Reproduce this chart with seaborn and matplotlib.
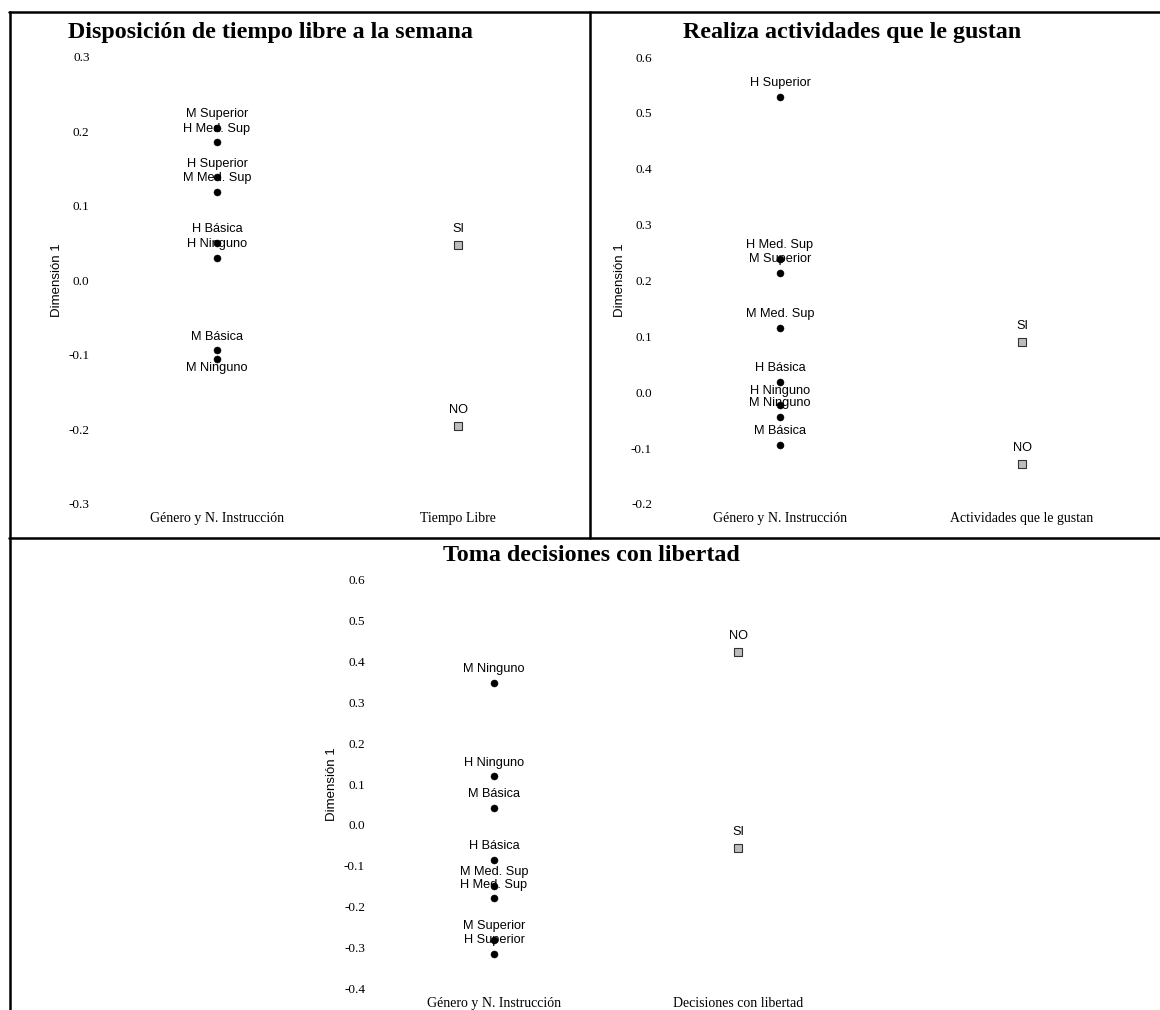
import matplotlib
matplotlib.use("Agg")
import matplotlib.pyplot as plt
import pandas as pd
import seaborn as sns
from matplotlib.lines import Line2D

# ---- Disposición de tiempo libre a la semana ----
tiempo_grupos = ["M Superior", "H Med. Sup", "H Superior", "M Med. Sup",
                 "H Básica", "H Ninguno", "M Básica", "M Ninguno"]
tiempo_grupos_dim1 = [0.204, 0.185, 0.138, 0.119, 0.050, 0.030, -0.094, -0.106]
tiempo_respuestas = ["SI", "NO"]
tiempo_respuestas_dim1 = [0.048, -0.195]
tiempo_ejes = ["Género y N. Instrucción", "Tiempo Libre"]
tiempo_ticks = [-0.3, -0.2, -0.1, 0.0, 0.1, 0.2, 0.3]

# ---- Realiza actividades que le gustan ----
activ_grupos = ["H Superior", "H Med. Sup", "M Superior", "M Med. Sup",
                "H Básica", "H Ninguno", "M Ninguno", "M Básica"]
activ_grupos_dim1 = [0.529, 0.239, 0.214, 0.115, 0.019, -0.023, -0.044, -0.095]
activ_respuestas = ["SI", "NO"]
activ_respuestas_dim1 = [0.090, -0.128]
activ_ejes = ["Género y N. Instrucción", "Actividades que le gustan"]
activ_ticks = [-0.2, -0.1, 0.0, 0.1, 0.2, 0.3, 0.4, 0.5, 0.6]

# ---- Toma decisiones con libertad ----
decis_grupos = ["M Ninguno", "H Ninguno", "M Básica", "H Básica",
                "M Med. Sup", "H Med. Sup", "M Superior", "H Superior"]
decis_grupos_dim1 = [0.348, 0.119, 0.042, -0.085, -0.149, -0.180, -0.281, -0.316]
decis_respuestas = ["NO", "SI"]
decis_respuestas_dim1 = [0.423, -0.057]
decis_ejes = ["Género y N. Instrucción", "Decisiones con libertad"]
decis_ticks = [-0.4, -0.3, -0.2, -0.1, 0.0, 0.1, 0.2, 0.3, 0.4, 0.5, 0.6]

sns.set_theme(style="white")
plt.rcParams["axes.unicode_minus"] = False
plt.rcParams["font.family"] = ["Liberation Sans", "DejaVu Sans"]
for key in ("text.color", "axes.labelcolor", "xtick.color", "ytick.color",
            "xtick.labelcolor", "ytick.labelcolor"):
    plt.rcParams[key] = "black"
SERIF = ["Liberation Serif", "DejaVu Serif"]

W, H = 1160, 1010
fig = plt.figure(figsize=(W / 100, H / 100), dpi=100)


def rect(x0, x1, ytop, ybot):
    return [x0 / W, 1 - ybot / H, (x1 - x0) / W, (ybot - ytop) / H]


def panel(box, title, title_x, grupos, g_vals, resp, r_vals, ejes, ticks,
          below=()):
    ax = fig.add_axes(box)
    df_g = pd.DataFrame({"col": [0] * len(grupos), "dim1": g_vals, "lab": grupos})
    df_r = pd.DataFrame({"col": [1] * len(resp), "dim1": r_vals, "lab": resp})
    sns.scatterplot(data=df_g, x="col", y="dim1", ax=ax, color="black",
                    marker="o", s=26, edgecolor="black", linewidth=0.3,
                    zorder=3, legend=False)
    sns.scatterplot(data=df_r, x="col", y="dim1", ax=ax, color="#bdbdbd",
                    marker="s", s=38, edgecolor="#333333", linewidth=0.8,
                    zorder=3, legend=False)
    for df, off in ((df_g, 10), (df_r, 11.5)):
        for _, row in df.iterrows():
            dy = -6 if row["lab"] in below else off
            ax.annotate(row["lab"], (row["col"], row["dim1"]),
                        xytext=(0, dy), textcoords="offset points",
                        ha="center", va="center", fontsize=9.2, color="black",
                        zorder=4)
    ax.set_xlim(-0.5, 1.5)
    ax.set_ylim(ticks[0], ticks[-1])
    ax.set_xticks([0, 1])
    ax.set_xticklabels(ejes, family=SERIF, fontsize=10)
    ax.set_yticks(ticks)
    ax.set_yticklabels([f"{t:.1f}" for t in ticks], family=SERIF, fontsize=9.5)
    ax.tick_params(axis="both", length=0)
    ax.tick_params(axis="y", pad=5)
    ax.tick_params(axis="x", pad=6)
    ax.set_xlabel("")
    ax.set_ylabel("Dimensión 1", fontsize=9.5, va="center", color="black")
    ax.yaxis.set_label_coords(-0.081, 0.5)
    for sp in ax.spines.values():
        sp.set_visible(False)
    ax.set_facecolor("none")
    h_px = box[3] * H
    ax.text(title_x, 1 + 24.5 / h_px, title, transform=ax.transAxes,
            ha="center", va="center", family=SERIF, fontweight="bold",
            fontsize=17.3, color="black")
    return ax


panel(rect(96.5, 578.5, 56.7, 504), "Disposición de tiempo libre a la semana",
      (270 - 96.5) / 482, tiempo_grupos, tiempo_grupos_dim1, tiempo_respuestas,
      tiempo_respuestas_dim1, tiempo_ejes, tiempo_ticks, below=("M Ninguno",))
panel(rect(659, 1143, 57, 504), "Realiza actividades que le gustan",
      (852 - 659) / 484, activ_grupos, activ_grupos_dim1, activ_respuestas,
      activ_respuestas_dim1, activ_ejes, activ_ticks)
panel(rect(372, 860, 580, 988.3), "Toma decisiones con libertad",
      (591 - 372) / 488, decis_grupos, decis_grupos_dim1, decis_respuestas,
      decis_respuestas_dim1, decis_ejes, decis_ticks)

# Panel frames
lw = 1.8
for (x0, y0, x1, y1) in [(9, 12, 1160, 12), (10, 12, 10, 1010),
                         (9, 537.5, 1160, 537.5), (590.5, 12, 590.5, 537.5)]:
    fig.add_artist(Line2D([x0 / W, x1 / W], [1 - y0 / H, 1 - y1 / H],
                          color="black", linewidth=lw,
                          transform=fig.transFigure))

fig.savefig("out.png", dpi=100, facecolor="white")
